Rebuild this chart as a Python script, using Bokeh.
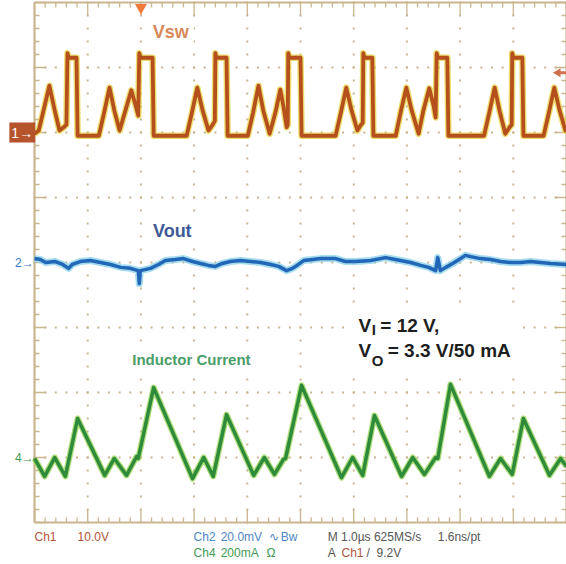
import numpy as np
from bokeh.plotting import figure
from bokeh.models import Range1d, Label, BoxAnnotation
from bokeh.embed import file_html
from bokeh.resources import INLINE

# ---------------- data (time in µs, 1.0 µs/div) ----------------
# Ch1: switch node voltage Vsw (V), 10 V/div
vsw_t = [0.00, 0.08, 0.17, 0.28, 0.38, 0.47, 0.55, 0.60, 0.62, 0.64, 0.79, 0.81,
         1.21, 1.31, 1.41, 1.50, 1.60, 1.71, 1.82, 1.90, 1.95, 1.97, 1.99, 2.22, 2.24,
         2.86, 2.96, 3.06, 3.16, 3.27, 3.35, 3.39, 3.40, 3.42, 3.61, 3.63,
         4.01, 4.11, 4.21, 4.30, 4.42, 4.53, 4.62, 4.68, 4.74, 4.76, 4.77, 4.79, 5.00, 5.02,
         5.66, 5.76, 5.86, 5.96, 6.07, 6.13, 6.17, 6.18, 6.20, 6.35, 6.37,
         6.79, 6.89, 6.99, 7.09, 7.22, 7.31, 7.42, 7.50, 7.54, 7.56, 7.58, 7.76, 7.78,
         8.45, 8.55, 8.65, 8.74, 8.85, 8.93, 8.97, 8.98, 9.00, 9.17, 9.19,
         9.57, 9.67, 9.77, 9.87, 9.98, 10.00]
vsw_v = [-0.2, 0.3, 3.4, 7.2, 3.4, 0.3, 0.8, 1.2, 12.2, 11.5, 11.5, -0.5,
         -0.5, 3.1, 6.9, 3.4, 0.3, 3.4, 6.5, 4.2, 2.6, 12.2, 11.5, 11.5, -0.5,
         -0.5, 3.1, 6.9, 3.4, 0.3, 1.2, 1.8, 12.2, 11.5, 11.5, -0.5,
         -0.5, 3.1, 7.2, 3.4, -0.2, 3.1, 6.6, 4.0, 0.8, 1.2, 12.2, 11.5, 11.5, -0.5,
         -0.5, 3.1, 6.9, 3.4, 0.3, 1.1, 1.5, 12.2, 11.5, 11.5, -0.5,
         -0.5, 3.4, 6.9, 3.4, -0.2, 3.4, 6.8, 4.2, 2.3, 12.2, 11.5, 11.5, -0.5,
         -0.5, 3.1, 6.9, 3.4, -0.2, 0.8, 1.2, 12.2, 11.5, 11.5, -0.5,
         -0.5, 3.1, 6.9, 3.4, 0.3, 0.6]

# Ch2: output voltage ripple Vout (mV, AC), 20 mV/div
vout_t = [0.00, 0.11, 0.21, 0.39, 0.53, 0.64, 0.71, 0.86, 1.05, 1.24, 1.43, 1.62, 1.80,
          1.95, 1.97, 1.99, 2.18, 2.33, 2.46, 2.65, 2.80, 2.97, 3.12, 3.27, 3.40, 3.53,
          3.68, 3.87, 4.06, 4.25, 4.44, 4.59, 4.74, 4.85, 4.96, 5.06, 5.23, 5.38, 5.66,
          5.85, 6.03, 6.32, 6.60, 6.88, 7.07, 7.26, 7.41, 7.54, 7.58, 7.63, 7.73, 7.86,
          8.01, 8.10, 8.20, 8.38, 8.57, 8.76, 8.95, 9.14, 9.32, 9.51, 9.70, 10.00]
vout_mv = [1.2, 0.9, 0.0, 0.3, -0.6, -1.8, -0.6, 0.3, 0.6, 0.0, -0.6, -1.5, -1.8,
           -2.5, -6.5, -2.5, -1.8, -0.6, 0.6, 0.9, 1.2, 0.3, -0.3, -0.9, -1.2, -0.3,
           0.3, 0.6, 0.3, 0.0, -0.6, -1.2, -2.5, -1.8, -0.6, 0.6, 0.9, 1.2, 1.2,
           0.3, 0.3, 0.6, 1.5, 0.6, 0.0, -0.9, -1.5, -2.5, 1.5, -2.5, -1.5, -0.3,
           1.2, 2.2, 1.8, 1.2, 0.9, 0.3, 0.0, 0.0, 0.3, 0.0, -0.3, -0.6]

# Ch4: inductor current (mA), 200 mA/div
il_t = [0.00, 0.19, 0.38, 0.58, 0.81, 1.32, 1.50, 1.73, 1.92, 1.95, 2.24, 2.97, 3.18,
        3.36, 3.61, 4.12, 4.32, 4.51, 4.68, 4.72, 5.02, 5.77, 5.98, 6.17, 6.39, 6.90,
        7.11, 7.33, 7.54, 7.58, 7.82, 8.55, 8.76, 8.98, 9.19, 9.68, 9.89, 10.00]
il_ma = [-3, -58, 0, -58, 120, -55, -3, -55, 3, -3, 215, -65, 0,
         -58, 132, -55, 0, -52, -6, -3, 222, -62, 0, -55, 129, -58,
         0, -52, 0, -3, 225, -58, -3, -52, 120, -55, -3, -28]

# channel settings (scale per division, screen position in divisions)
ch1_scale, ch1_pos = 10.0, 2.0
ch2_scale, ch2_pos = 20.0, 0.0
ch4_scale, ch4_pos = 200.0, -3.0
trig_level = 9.2
trig_time = 2.0

TAN = "#c9b690"
FONT = "Liberation Sans"

W, H = 566, 564
X0, X1 = -34 / 53.2, 10.0          # canvas spans the graticule plus margins
Y0, Y1 = 4 - 562 / 65.0, 4 + 2 / 65.0
PXX = W / (X1 - X0)                # px per µs
PXY = H / (Y1 - Y0)                # px per division

p = figure(width=W, height=H, x_range=Range1d(X0, X1), y_range=Range1d(Y0, Y1),
           output_backend="svg", toolbar_location=None,
           x_axis_location=None, y_axis_location=None,
           min_border_left=0, min_border_right=0, min_border_top=0, min_border_bottom=0)
p.outline_line_color = None
p.background_fill_color = "white"
p.border_fill_color = "white"
for g in p.grid:
    g.visible = False

# ----- graticule -----
xs_min = np.arange(0, 10.001, 0.2)
ys_min = np.arange(-4, 4.001, 0.2)
xmaj_mask = np.isclose(xs_min, np.round(xs_min))
ymaj_mask = np.isclose(ys_min, np.round(ys_min))
lx = np.where(xmaj_mask, 13, 5) / PXY
ly = np.where(ymaj_mask, 12, 5) / PXX
p.segment(xs_min, -4, xs_min, -4 + lx, line_color=TAN, line_width=1.3)
p.segment(xs_min, 4, xs_min, 4 - lx, line_color=TAN, line_width=1.3)
p.segment(0, ys_min, ly, ys_min, line_color=TAN, line_width=1.3)
p.segment(10, ys_min, 10 - ly, ys_min, line_color=TAN, line_width=1.3)
p.segment([0, 0, 0, 10], [-4, -4, 4, -4], [10, 0, 10, 10], [-4, 4, 4, 4],
          line_color=TAN, line_width=2.2)
xmaj = np.arange(1, 10)
ymaj = np.arange(-3, 4)
dx = np.concatenate([np.repeat(xmaj, len(ys_min)), np.tile(xs_min, len(ymaj))])
dy = np.concatenate([np.tile(ys_min, len(xmaj)), np.repeat(ymaj, len(xs_min))])
p.scatter(dx, dy, marker="square", size=2, color=TAN, line_color=None)

# ----- traces -----
t1 = np.array(vsw_t); y1 = ch1_pos + np.array(vsw_v) / ch1_scale
t2 = np.array(vout_t); y2 = ch2_pos + np.array(vout_mv) / ch2_scale
t4 = np.array(il_t); y4 = ch4_pos + np.array(il_ma) / ch4_scale

p.line(t1, y1, line_color="#e6d040", line_width=6.5, line_alpha=0.75, line_join="round")
p.line(t1, y1, line_color="#b5501c", line_width=3.8, line_join="round")
p.line(t2, y2, line_color="#8fd3ea", line_width=7, line_alpha=0.8, line_join="round")
p.line(t2, y2, line_color="#2266b8", line_width=3.5, line_join="round")
p.line(t4, y4, line_color="#9ad45a", line_width=6, line_alpha=0.8, line_join="round")
p.line(t4, y4, line_color="#2e8b3a", line_width=3.5, line_join="round")

# trigger markers
p.scatter([trig_time], [4 - 5 / PXY], marker="inverted_triangle", size=12,
          color="#f07a3a", line_color=None)
ty = ch1_pos + trig_level / ch1_scale
p.segment([9.86], [ty], [10.0], [ty], line_color="#d0704c", line_width=3)
p.scatter([9.84], [ty], marker="triangle", angle=np.pi / 2, size=9,
          color="#d0704c", line_color=None)

# ----- waveform labels -----
p.add_layout(Label(x=2.56, y=3.54, text="Vsw", text_align="center", text_baseline="middle",
                   text_font=FONT, text_font_style="bold", text_font_size="18px",
                   text_color="#d8895a", background_fill_color="white", padding=5))
p.add_layout(Label(x=2.59, y=0.48, text="Vout", text_align="center", text_baseline="middle",
                   text_font=FONT, text_font_style="bold", text_font_size="18px",
                   text_color="#3e5a96", background_fill_color="white", padding=5))
p.add_layout(Label(x=2.95, y=-1.49, text="Inductor Current", text_align="center",
                   text_baseline="middle", text_font=FONT, text_font_style="bold",
                   text_font_size="15px", text_color="#4a9e68",
                   background_fill_color="white", padding=5))

p.add_layout(BoxAnnotation(left=5.85, right=9.18, top=-0.66, bottom=-1.74,
                           fill_color="white", fill_alpha=1.0, line_color=None))
cond = [("V", 6.09, -0.97, "19px"), ("I", 6.34, -1.03, "15px"), ("= 12 V,", 6.50, -0.97, "19px"),
        ("V", 6.09, -1.36, "19px"), ("O", 6.34, -1.50, "15px"), ("= 3.3 V/50 mA", 6.64, -1.36, "19px")]
for txt, x, y, fs in cond:
    p.add_layout(Label(x=x, y=y, text=txt, text_align="left", text_baseline="middle",
                       text_font=FONT, text_font_style="bold", text_font_size=fs,
                       text_color="#1e1e1e"))

# ----- channel ground markers -----
p.add_layout(Label(x=-0.23, y=ch1_pos, text="1→", text_align="center", text_baseline="middle",
                   text_font=FONT, text_font_size="14px", text_color="white",
                   background_fill_color="#b5532a", padding=2))
p.add_layout(Label(x=-0.19, y=ch2_pos, text="2→", text_align="center", text_baseline="middle",
                   text_font=FONT, text_font_size="12px", text_color="#3a78c9"))
p.add_layout(Label(x=-0.19, y=ch4_pos, text="4→", text_align="center", text_baseline="middle",
                   text_font=FONT, text_font_size="12px", text_color="#3f9a55"))

# ----- readout rows -----
RED, BLUE, GREEN, GRAY = "#b0553a", "#4f86c6", "#3f9a55", "#555555"
readout = [("Ch1", 0.00, -4.22, RED), ("10.0V", 0.81, -4.22, RED),
           ("Ch2", 2.99, -4.22, BLUE), ("20.0mV", 3.50, -4.22, BLUE),
           ("∿", 4.40, -4.22, BLUE), ("Bw", 4.63, -4.22, BLUE),
           ("M 1.0µs 625MS/s", 5.51, -4.22, GRAY), ("1.6ns/pt", 7.58, -4.22, GRAY),
           ("Ch4", 2.99, -4.47, GREEN), ("200mA", 3.50, -4.47, GREEN), ("Ω", 4.36, -4.47, GREEN),
           ("A", 5.51, -4.47, GRAY), ("Ch1", 5.77, -4.47, RED), ("/", 6.24, -4.47, GRAY),
           ("9.2V", 6.43, -4.47, GRAY)]
for txt, x, y, c in readout:
    p.add_layout(Label(x=x, y=y, text=txt, text_align="left", text_baseline="middle",
                       text_font=FONT, text_font_size="12px", text_color=c))

open("out.html", "w").write(file_html(p, INLINE))
